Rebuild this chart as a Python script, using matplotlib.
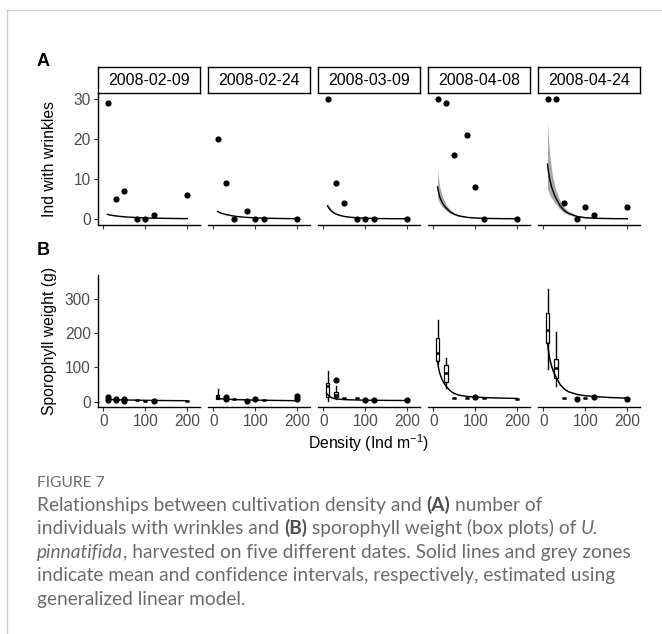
import matplotlib
matplotlib.use("Agg")
import matplotlib.pyplot as plt
from matplotlib.lines import Line2D

W, H, DPI = 662, 634, 100
plt.rcParams['font.family'] = ['Liberation Sans', 'DejaVu Sans']
plt.rcParams['mathtext.fontset'] = 'custom'
plt.rcParams['mathtext.rm'] = 'Liberation Sans'
plt.rcParams['mathtext.it'] = 'Liberation Sans:italic'
plt.rcParams['mathtext.bf'] = 'Liberation Sans:bold'
plt.rcParams['mathtext.default'] = 'regular'

# ---------------- data ----------------
dates = ["2008-02-09", "2008-02-24", "2008-03-09", "2008-04-08", "2008-04-24"]
density = [10, 30, 50, 80, 100, 120, 200]
x_ticks = [0, 100, 200]
yticks_a = [0, 10, 20, 30]
yticks_b = [0, 100, 200, 300]

# Panel A: number of individuals with wrinkles
wrinkles = [
    [29, 5, 7, 0, 0, 1, 6],
    [20, 9, 0, 2, 0, 0, 0],
    [30, 9, 4, 0, 0, 0, 0],
    [30, 29, 16, 21, 8, 0, 0],
    [30, 30, 4, 0, 3, 1, 3],
]

curve_x = [10, 12, 15, 20, 25, 30, 40, 50, 60, 80, 100, 130, 160, 200]

wr_fit = [
    [1.15, 1.1, 1.02, 0.92, 0.84, 0.77, 0.65, 0.55, 0.47, 0.35, 0.27, 0.19, 0.14, 0.09],
    [1.9, 1.78, 1.62, 1.42, 1.26, 1.12, 0.9, 0.72, 0.58, 0.4, 0.29, 0.18, 0.12, 0.08],
    [3.3, 2.95, 2.5, 1.95, 1.55, 1.25, 0.88, 0.64, 0.48, 0.3, 0.2, 0.12, 0.08, 0.05],
    [8.0, 6.9, 5.6, 4.4, 3.5, 2.8, 1.8, 1.2, 0.8, 0.42, 0.25, 0.14, 0.1, 0.07],
    [13.7, 12.0, 10.0, 7.9, 6.4, 5.2, 3.3, 2.1, 1.4, 0.65, 0.32, 0.16, 0.1, 0.07],
]
wr_hi = [
    [1.25, 1.19, 1.1, 0.99, 0.9, 0.83, 0.7, 0.59, 0.5, 0.38, 0.29, 0.21, 0.15, 0.1],
    [2.1, 1.96, 1.78, 1.55, 1.37, 1.22, 0.97, 0.78, 0.63, 0.43, 0.31, 0.2, 0.13, 0.09],
    [3.9, 3.45, 2.9, 2.25, 1.78, 1.43, 1.0, 0.73, 0.55, 0.35, 0.24, 0.15, 0.1, 0.07],
    [12.2, 10.3, 8.2, 6.1, 4.7, 3.6, 2.3, 1.5, 1.0, 0.55, 0.34, 0.2, 0.14, 0.1],
    [24.4, 20.5, 16.3, 12.0, 9.2, 7.3, 4.5, 2.85, 1.9, 0.9, 0.46, 0.23, 0.14, 0.1],
]
wr_lo = [
    [1.05, 1.01, 0.94, 0.85, 0.78, 0.71, 0.6, 0.51, 0.44, 0.32, 0.25, 0.17, 0.13, 0.08],
    [1.72, 1.62, 1.47, 1.3, 1.16, 1.03, 0.83, 0.66, 0.53, 0.37, 0.27, 0.16, 0.11, 0.07],
    [2.8, 2.5, 2.15, 1.68, 1.35, 1.09, 0.77, 0.56, 0.42, 0.26, 0.17, 0.1, 0.06, 0.04],
    [5.3, 4.7, 3.9, 3.2, 2.6, 2.15, 1.4, 0.95, 0.63, 0.32, 0.18, 0.1, 0.07, 0.05],
    [7.7, 7.0, 6.1, 5.2, 4.4, 3.7, 2.4, 1.55, 1.03, 0.47, 0.22, 0.11, 0.07, 0.05],
]

# Panel B: sporophyll weight boxes (density, whisker low, q1, median, q3, whisker high)
sp_boxes = [
    [],
    [(10, 8, 9, 15, 21, 36)],
    [(10, 3, 15, 47, 54, 91), (30, 8, 13, 21, 29, 46)],
    [(10, 110, 119, 141, 187, 239), (30, 39, 57, 85, 106, 129)],
    [(10, 95, 171, 209, 258, 328), (30, 46, 68, 98, 124, 205)],
]
# collapsed boxes (single value): (density, value)
sp_flat = [
    [(80, 5), (100, 3), (200, 3)],
    [(50, 8), (120, 5)],
    [(50, 10), (80, 10)],
    [(50, 11), (80, 10), (120, 12), (200, 9)],
    [(50, 12), (100, 11)],
]
# single points: (density, value)
sp_points = [
    [(10, 13), (10, 6), (30, 9), (30, 4), (50, 8), (50, 3), (120, 2)],
    [(30, 14), (30, 7), (80, 2), (100, 7), (200, 16), (200, 9)],
    [(30, 63), (100, 5), (120, 5), (200, 5)],
    [(100, 15)],
    [(80, 8), (120, 15), (200, 7)],
]
sp_fit = [
    [7, 6.9, 6.8, 6.5, 6.3, 6.1, 5.7, 5.3, 5.0, 4.5, 4.1, 3.7, 3.3, 3.0],
    [9.5, 9.2, 8.8, 8.3, 7.9, 7.5, 6.9, 6.4, 6.0, 5.3, 4.7, 4.1, 3.6, 3.0],
    [22, 18.5, 15, 11.5, 9.5, 8.3, 7, 6.2, 5.7, 5.0, 4.5, 4.1, 3.8, 3.5],
    [118, 101, 84, 67, 55, 46, 32, 24, 19.5, 15.5, 13.5, 11.8, 10.6, 9.5],
    [171, 150, 126, 102, 85, 73, 50, 37, 29, 21.5, 17.5, 14.5, 12.3, 10.5],
]
sp_hi = [
    [8, 7.9, 7.7, 7.4, 7.1, 6.9, 6.4, 5.9, 5.6, 5.0, 4.6, 4.2, 3.8, 3.5],
    [11, 10.6, 10.1, 9.5, 9.0, 8.5, 7.8, 7.2, 6.7, 5.9, 5.3, 4.6, 4.1, 3.5],
    [25, 21, 17, 13, 10.7, 9.3, 7.8, 6.9, 6.3, 5.5, 5.0, 4.6, 4.3, 4.0],
    [126, 108, 90, 72, 59, 49.5, 34.5, 26, 21, 16.8, 14.6, 12.8, 11.6, 10.5],
    [185, 162, 136, 110, 92, 79, 54, 40, 31.5, 23.3, 19, 15.8, 13.5, 11.6],
]
sp_lo = [
    [6, 5.9, 5.9, 5.6, 5.5, 5.3, 5.0, 4.7, 4.4, 4.0, 3.6, 3.2, 2.8, 2.5],
    [8, 7.8, 7.5, 7.1, 6.8, 6.5, 6.0, 5.6, 5.3, 4.7, 4.1, 3.6, 3.1, 2.5],
    [19, 16, 13, 10, 8.3, 7.3, 6.2, 5.5, 5.1, 4.5, 4.0, 3.6, 3.3, 3.0],
    [110, 94, 78, 62, 51, 42.5, 29.5, 22, 18, 14.2, 12.4, 10.8, 9.6, 8.5],
    [157, 138, 116, 94, 78, 67, 46, 34, 26.5, 19.7, 16, 13.2, 11.1, 9.4],
]

caption_title = "FIGURE 7"
# (text, weight, style, space_before)
caption_lines = [
    [("Relationships between cultivation density and", "normal", "normal", False),
     ("(A)", "bold", "normal", True), ("number of", "normal", "normal", True)],
    [("individuals with wrinkles and", "normal", "normal", False),
     ("(B)", "bold", "normal", True),
     ("sporophyll weight (box plots) of", "normal", "normal", True),
     ("U.", "normal", "italic", True)],
    [("pinnatifida", "normal", "italic", False),
     (", harvested on five different dates. Solid lines and grey zones", "normal", "normal", False)],
    [("indicate mean and confidence intervals, respectively, estimated using", "normal", "normal", False)],
    [("generalized linear model.", "normal", "normal", False)],
]

# ---------------- layout ----------------
fig = plt.figure(figsize=(W / DPI, H / DPI), dpi=DPI)


def fx(x):
    return x / W


def fy(y):
    return 1 - y / H


FACET_X0 = [98, 208, 318, 428, 538]
FACET_W = 102
STRIP_TOP = 67.3
A_TOP, A_BOT = 92.7, 225.0
B_TOP, B_BOT = 275.0, 406.7
XLIM = (-12.6, 230)
YLIM_A = (-1.5, 31.5)
YLIM_B = (-14.6, 370)
TXT = 11.3
TICK_COLOR = '#333333'
LABEL_COLOR = '#4d4d4d'
BAND = '#8a8a8a'


def style_axis(ax, first, show_xlabels, yt):
    for s in ['top', 'right']:
        ax.spines[s].set_visible(False)
    ax.spines['left'].set_visible(first)
    for s in ['left', 'bottom']:
        ax.spines[s].set_linewidth(1.0)
        ax.spines[s].set_color('black')
    ax.set_xlim(*XLIM)
    ax.set_xticks(x_ticks)
    ax.set_yticks(yt)
    ax.tick_params(axis='both', direction='out', length=2.8, width=0.8,
                   color=TICK_COLOR, labelsize=11.2, labelcolor=LABEL_COLOR, pad=2.5)
    if not show_xlabels:
        ax.tick_params(axis='x', labelbottom=False)
    if not first:
        ax.tick_params(axis='y', left=False, labelleft=False)
    ax.patch.set_alpha(0)


for i, d in enumerate(dates):
    x0 = FACET_X0[i]
    # strip
    sax = fig.add_axes([fx(x0), fy(A_TOP), FACET_W / W, (A_TOP - STRIP_TOP) / H])
    sax.set_xticks([])
    sax.set_yticks([])
    for s in sax.spines.values():
        s.set_linewidth(1.0)
        s.set_color('black')
    sax.text(0.5, 0.47, d, ha='center', va='center', fontsize=11.5, color='black',
             transform=sax.transAxes)

    # panel A
    ax = fig.add_axes([fx(x0), fy(A_BOT), FACET_W / W, (A_BOT - A_TOP) / H])
    ax.set_ylim(*YLIM_A)
    style_axis(ax, i == 0, False, yticks_a)
    ax.fill_between(curve_x, wr_lo[i], wr_hi[i], color=BAND, alpha=0.75, lw=0, zorder=1)
    ax.plot(curve_x, wr_fit[i], color='black', lw=1.0, zorder=2)
    ax.scatter(density, wrinkles[i], s=20, color='black', zorder=3, clip_on=False, lw=0)

    # panel B
    bx = fig.add_axes([fx(x0), fy(B_BOT), FACET_W / W, (B_BOT - B_TOP) / H])
    bx.set_ylim(*YLIM_B)
    style_axis(bx, i == 0, True, yticks_b)
    stats = []
    pos = []
    for (dd, wl, q1, md, q3, wh) in sp_boxes[i]:
        stats.append(dict(med=md, q1=q1, q3=q3, whislo=wl, whishi=wh, fliers=[]))
        pos.append(dd)
    for (dd, v) in sp_flat[i]:
        stats.append(dict(med=v, q1=v, q3=v, whislo=v, whishi=v, fliers=[]))
        pos.append(dd)
    if stats:
        bx.bxp(stats, positions=pos, widths=9, showfliers=False, showcaps=False,
               patch_artist=True, manage_ticks=False,
               boxprops=dict(facecolor='white', edgecolor='black', linewidth=0.9),
               medianprops=dict(color='black', linewidth=1.8, solid_capstyle='butt'),
               whiskerprops=dict(color='black', linewidth=1.0), zorder=2)
    bx.fill_between(curve_x, sp_lo[i], sp_hi[i], color=BAND, alpha=0.6, lw=0, zorder=1)
    bx.plot(curve_x, sp_fit[i], color='black', lw=1.0, zorder=3)
    if sp_points[i]:
        px = [p[0] for p in sp_points[i]]
        py = [p[1] for p in sp_points[i]]
        bx.scatter(px, py, s=20, color='black', zorder=4, clip_on=False, lw=0)
    bx.set_xticklabels([str(t) for t in x_ticks])

# axis titles and tags
fig.text(fx(50), fy((A_TOP + A_BOT) / 2), "Ind with wrinkles", rotation=90,
         ha='center', va='center', fontsize=TXT, color='black')
fig.text(fx(50), fy((B_TOP + B_BOT) / 2), "Sporophyll weight (g)", rotation=90,
         ha='center', va='center', fontsize=TXT, color='black')
fig.text(fx(369), fy(443), "Density (Ind m$^{-1}$)", ha='center', va='center',
         fontsize=TXT, color='black')
fig.text(fx(36.5), fy(61.7), "A", ha='left', va='center', fontsize=13, fontweight='bold')
fig.text(fx(36.5), fy(250.7), "B", ha='left', va='center', fontsize=13, fontweight='bold')

# frame lines
fig.add_artist(Line2D([fx(6.5), fx(6.5)], [fy(10), 0], transform=fig.transFigure,
                      color='#cfcfcf', lw=1.0))
fig.add_artist(Line2D([fx(6.5), 1], [fy(10), fy(10)], transform=fig.transFigure,
                      color='#cfcfcf', lw=1.0))

# caption
CAP_FONT = ['Lato', 'DejaVu Sans']
CAP_COLOR = '#6b6b6b'
renderer = fig.canvas.get_renderer()


def text_width(s, size, weight='normal', style='normal'):
    t = fig.text(0, 0, s, fontsize=size, fontweight=weight, fontstyle=style,
                 family=CAP_FONT)
    w = t.get_window_extent(renderer).width
    t.remove()
    return w


def line_width(pieces, size):
    sp = text_width("x x", size) - text_width("xx", size)
    total = 0
    for (s, wgt, sty, spb) in pieces:
        if spb:
            total += sp
        total += text_width(s, size, wgt, sty)
    return total


base = 10.0
target = 632 - 36.7
cap_size = base * target / line_width(caption_lines[2], base)


def draw_line(pieces, x_px, y_px, size):
    sp = text_width("x x", size) - text_width("xx", size)
    x = x_px
    for (s, wgt, sty, spb) in pieces:
        if spb:
            x += sp
        col = '#4f4f4f' if wgt == 'bold' else CAP_COLOR
        t = fig.text(fx(x), fy(y_px), s, fontsize=size, fontweight=wgt, fontstyle=sty,
                     family=CAP_FONT, color=col, ha='left', va='baseline')
        x += t.get_window_extent(renderer).width


fig.text(fx(36.7), fy(487), caption_title, fontsize=cap_size * 0.82, family=CAP_FONT,
         color=CAP_COLOR, ha='left', va='baseline')
for k, pieces in enumerate(caption_lines):
    draw_line(pieces, 36.7, 510.7 + 23.5 * k, cap_size)

fig.savefig("out.png", dpi=DPI)
